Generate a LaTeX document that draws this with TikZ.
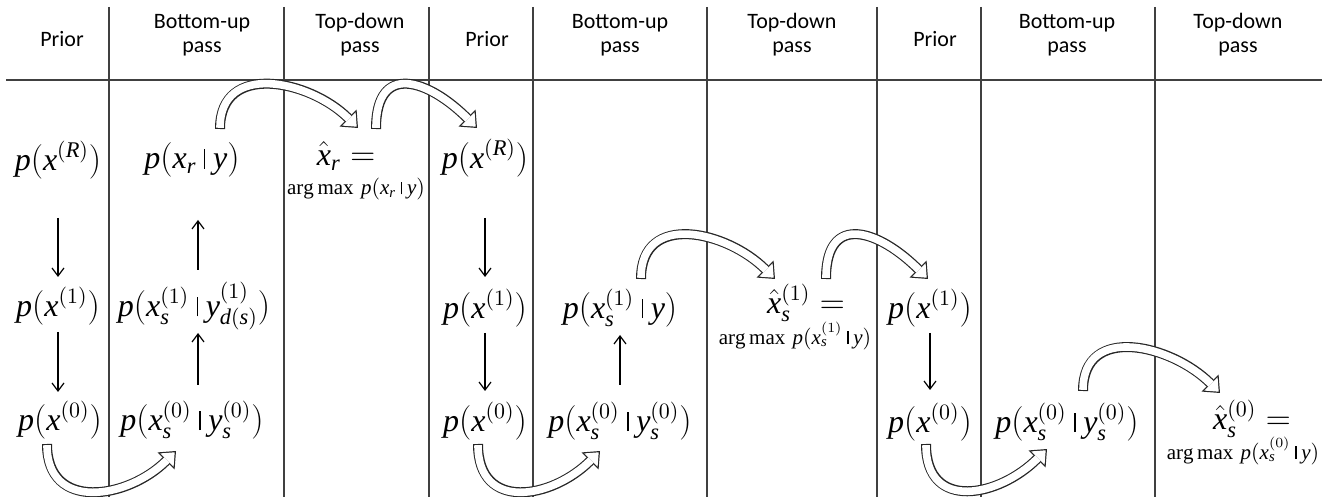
\documentclass[tikz,border=0pt]{standalone}
\usepackage{fontspec}
\setmainfont{Liberation Serif}
\newfontfamily\headfont{Carlito}
\DeclareSymbolFont{letters}{TU}{\rmdefault}{m}{it}
\DeclareSymbolFont{cmaccents}{OT1}{cmr}{m}{n}
\DeclareMathAccent{\hat}{\mathalpha}{cmaccents}{"5E}
\newcommand\cnd{\mskip4mu\vrule height0.6em depth0pt width0.6pt\mskip4mu}
\usepackage{tikz}
\usetikzlibrary{arrows.meta}
\tikzset{
  sepline/.style ={draw=black!75,line width=0.8pt},
  hdr/.style     ={font=\headfont\fontsize{11}{12}\selectfont,align=center,inner sep=0pt},
  prob/.style    ={font=\fontsize{16}{18}\selectfont,inner sep=0pt},
  amax/.style    ={font=\fontsize{10.5}{12}\selectfont,inner sep=0pt},
  ed/.style      ={-{Straight Barb[length=4pt,width=6pt]},draw=black,line width=0.6pt},
  flow/.style    ={draw=black!85,line width=5pt,
                   -{Triangle[length=7pt,width=12pt,line width=0pt]},
                   postaction={draw=white,line width=3.8pt,shorten <=0.6pt,shorten >=0.92pt,
                               -{Triangle[length=5.48pt,width=9.39pt,line width=0pt]}}},
  arcup/.style   ={flow,out=90,in=135,distance=34pt},
  arcdn/.style   ={flow,out=-90,in=-135,distance=34pt},
}

\begin{document}
\begin{tikzpicture}[x=0.5pt,y=-0.5pt]
\useasboundingbox (0,0) rectangle (1340,497);

%% ---------------- table rules ----------------
\draw[sepline] (6,80) -- (1322,80);
\foreach \xx in {109,284,429,533,707,877,981,1155}
  \draw[sepline] (\xx,7) -- (\xx,497);

%% ---------------- column heads ----------------
\foreach \xx [count=\i] in {62,487,935}
  \node[hdr] (prior\i) at (\xx,39) {Prior};
\foreach \xx [count=\i] in {202,620,1067}
  \node[hdr] (bup\i) at (\xx,35) {Bottom-up\\pass};
\foreach \xx [count=\i] in {360,792,1238}
  \node[hdr] (tdn\i) at (\xx,35) {Top-down\\pass};

%% ---------------- first sweep ----------------
\node[prob] (pRa) at ( 58,160) {$p(x^{(R)})$};
\node[prob] (p1a) at ( 58,306) {$p(x^{(1)})$};
\node[prob] (p0a) at ( 60,420) {$p(x^{(0)})$};
\node[prob] (bRa) at (192,160) {$p(x_r \cnd y)$};
\node[prob] (b1a) at (194,306) {$p(x^{(1)}_s \cnd y^{(1)}_{d(s)})$};
\node[prob] (b0a) at (192,420) {$p(x^{(0)}_s \cnd y^{(0)}_s)$};
\node[prob] (tRa) at (346,156) {$\hat{x}_r =$};
\node[amax] (tRarg) at (356,189) {$\arg\max\, p(x_r \cnd y)$};

%% ---------------- second sweep ----------------
\node[prob] (pRb) at (485,158) {$p(x^{(R)})$};
\node[prob] (p1b) at (485,308) {$p(x^{(1)})$};
\node[prob] (p0b) at (485,421) {$p(x^{(0)})$};
\node[prob] (b1b) at (620,308) {$p(x^{(1)}_s \cnd y)$};
\node[prob] (b0b) at (620,421) {$p(x^{(0)}_s \cnd y^{(0)}_s)$};
\node[prob] (t1b) at (806,303) {$\hat{x}^{(1)}_s =$};
\node[amax] (t1barg) at (795,336) {$\arg\max\, p(x^{(1)}_s \cnd y)$};

%% ---------------- third sweep ----------------
\node[prob] (p1c) at (930,308) {$p(x^{(1)})$};
\node[prob] (p0c) at (930,422) {$p(x^{(0)})$};
\node[prob] (b0c) at (1067,422) {$p(x^{(0)}_s \cnd y^{(0)}_s)$};
\node[prob] (t0c) at (1252,419) {$\hat{x}^{(0)}_s =$};
\node[amax] (t0carg) at (1243,451) {$\arg\max\, p(x^{(0)}_s \cnd y)$};

%% ---------------- thin arrows inside a column ----------------
\foreach \u/\v/\dx/\su/\sv in {pRa/p1a/0/58/-29, p1a/p0a/0/26/-28,
    b0a/b1a/6/-35/27, b1a/bRa/4/-36/60, pRb/p1b/0/60/-31, p1b/p0b/0/25/-30,
    b0b/b1b/0/-36/27, p1c/p0c/0/25/-32}
  \draw[ed] ([shift={(\dx,\su)}]\u.center) -- ([shift={(\dx,\sv)}]\u.center |- \v.center);

%% ---------------- hollow arrows across columns ----------------
\foreach \u/\v/\ax/\ay/\bx/\by in {bRa/tRa/28/-31/12/-28, tRa/pRb/30/-27/-8/-30,
    b1b/t1b/21/-29/-31/-24, t1b/p1c/20/-24/-2/-29, b0c/t0c/16/-31/-32/-26}
  \draw[arcup] ([shift={(\ax,\ay)}]\u.center) to ([shift={(\bx,\by)}]\v.center);

\foreach \u/\v/\ax/\ay/\bx/\by in {p0a/b0a/-13/24/-16/31, p0b/b0b/-7/23/-20/30,
    p0c/b0c/-4/22/-20/27}
  \draw[arcdn] ([shift={(\ax,\ay)}]\u.center) to ([shift={(\bx,\by)}]\v.center);

\end{tikzpicture}
\end{document}
